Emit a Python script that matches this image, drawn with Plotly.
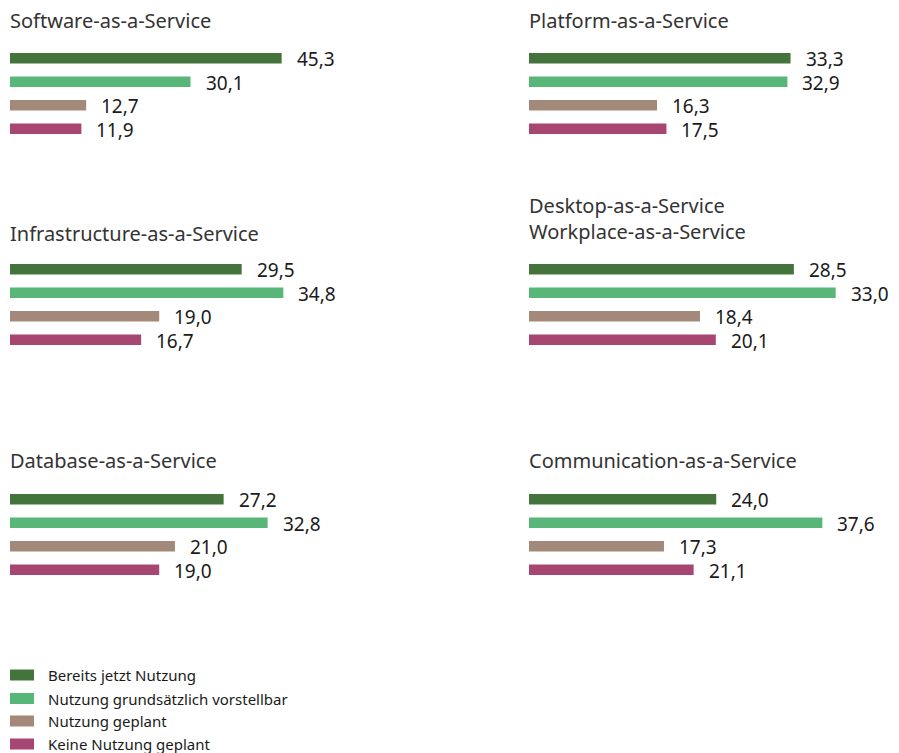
import plotly.graph_objects as go

# page body has an 8px default margin; figure is sized to fill the rest of the window
OFF = 8
W, H = 899 - OFF, 753 - OFF

panels = [
    "Software-as-a-Service",
    "Platform-as-a-Service",
    "Infrastructure-as-a-Service",
    "Desktop-as-a-Service<br>Workplace-as-a-Service",
    "Database-as-a-Service",
    "Communication-as-a-Service",
]
series = [
    "Bereits jetzt Nutzung",
    "Nutzung grundsätzlich vorstellbar",
    "Nutzung geplant",
    "Keine Nutzung geplant",
]
colors = ["#44743C", "#58B778", "#A38979", "#A84672"]

# values per panel, in series order
saas = [45.3, 30.1, 12.7, 11.9]
paas = [33.3, 32.9, 16.3, 17.5]
iaas = [29.5, 34.8, 19.0, 16.7]
daas = [28.5, 33.0, 18.4, 20.1]
dbaas = [27.2, 32.8, 21.0, 19.0]
caas = [24.0, 37.6, 17.3, 21.1]
values = [saas, paas, iaas, daas, dbaas, caas]

# x-axis maxima per panel (each panel has its own scale in the original)
xmax = [59.2, 45.2, 45.2, 38.2, 45.2, 45.5]

FONT = "Noto Sans"

def px_x(p):
    return (p - OFF) / W

def px_y(p):
    return 1 - (p - OFF) / H

fig = go.Figure()

col_left = [10, 529]
panel_w = 355
row_top = [46.5, 257.5, 487.5]  # top of bar area in window pixels
bar_area_h = 94
title_y = [20, 233, 460]

annotations = []
for i, (name, vals) in enumerate(zip(panels, values)):
    r, c = divmod(i, 2)
    ax = "" if i == 0 else str(i + 1)
    xa = "x" + ax
    ya = "y" + ax
    for s in range(4):
        fig.add_trace(go.Bar(
            x=[vals[s]], y=[s], orientation="h",
            marker=dict(color=colors[s], line=dict(width=0)),
            width=0.45, xaxis=xa, yaxis=ya, showlegend=False,
            hoverinfo="skip",
        ))
        annotations.append(dict(
            x=vals[s], y=s, xref=xa, yref=ya,
            text=f"{vals[s]:.1f}".replace(".", ","),
            showarrow=False, xanchor="left", yanchor="middle",
            xshift=13, yshift=-1,
            font=dict(family=FONT, size=19, color="#1a1a1a"),
        ))
    x0 = col_left[c]
    fig.layout["xaxis" + ax] = dict(
        domain=[px_x(x0), px_x(x0 + panel_w)], range=[0, xmax[i]],
        visible=False, anchor=ya, fixedrange=True,
    )
    top = row_top[r]
    fig.layout["yaxis" + ax] = dict(
        domain=[px_y(top + bar_area_h), px_y(top)], range=[3.5, -0.5],
        visible=False, anchor=xa, fixedrange=True,
    )
    ty = title_y[r] if "<br>" not in name else 218
    annotations.append(dict(
        x=px_x(x0 - 2), y=px_y(ty), xref="paper", yref="paper",
        text=name, showarrow=False, xanchor="left", yanchor="middle",
        align="left",
        font=dict(family=FONT, size=20, color="#333333"),
    ))

# custom legend
shapes = []
leg_y = [675, 698.5, 721, 744]
for s, (lab, col) in enumerate(zip(series, colors)):
    yc = leg_y[s]
    shapes.append(dict(
        type="rect", xref="paper", yref="paper",
        x0=px_x(10), x1=px_x(34), y0=px_y(yc + 5.5), y1=px_y(yc - 5.5),
        fillcolor=col, line=dict(width=0),
    ))
    annotations.append(dict(
        x=px_x(46), y=px_y(yc), xref="paper", yref="paper",
        text=lab, showarrow=False, xanchor="left", yanchor="middle",
        font=dict(family=FONT, size=15, color="#1a1a1a"),
    ))

fig.update_layout(
    width=W, height=H,
    margin=dict(l=0, r=0, t=0, b=0),
    paper_bgcolor="white", plot_bgcolor="white",
    barmode="overlay", showlegend=False,
    annotations=annotations, shapes=shapes,
    font=dict(family=FONT),
)

fig.write_html("out.html")
